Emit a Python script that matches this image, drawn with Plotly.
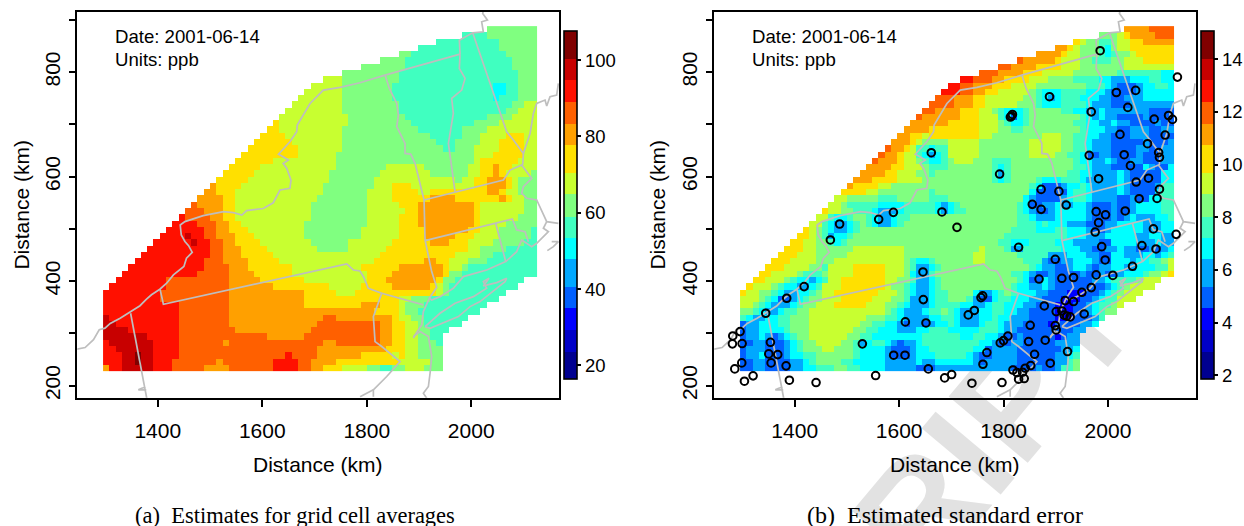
import plotly.graph_objects as go

band_colors = ["#000090", "#0000C8", "#0000FF", "#0060FF", "#00A8FF", "#00FFFF", "#40FFC0", "#80FF80",
               "#C8FF30", "#FFE000", "#FFA000", "#FF6000", "#FF1000", "#C80000", "#800000"]
band_keys = "0123456789abcde"
edges_a = [16.5, 23.7, 29.4, 35.2, 40.7, 47.9, 53.5, 59.0, 65.0, 70.5, 77.8, 83.3, 89.1, 94.8, 100.3, 107.7]
edges_b = [1.87, 2.91, 3.73, 4.58, 5.38, 6.43, 7.23, 8.03, 8.89, 9.70, 10.75, 11.55, 12.39, 13.21, 14.01, 15.08]
ticks_a = [20, 40, 60, 80, 100]
ticks_b = [2, 4, 6, 8, 10, 12, 14]

rows_a = [
"61|7:69","57|6:61 7:69","53|6:63 7:69","50|6:63 7:69","47|7:49 6:64 7:69","44|7:48 6:65 7:69","41|7:48 6:65 7:69",
"38|7:47 6:66 7:69","35|8:38 7:47 6:66 7:69","33|8:38 7:46 6:62 5:64 6:66 7:69","32|8:38 7:46 6:62 5:64 6:66 7:69",
"31|8:38 7:46 6:62 5:63 6:66 7:69","30|8:38 7:47 6:65 7:67 8:69","29|8:38 7:47 6:64 7:66 8:69",
"28|8:39 7:48 6:61 7:65 8:69","27|9:28 8:39 7:49 6:59 7:63 8:69","26|9:28 8:38 7:50 6:57 7:61 8:69",
"25|9:29 8:38 7:52 6:57 7:60 8:64 9:67 8:69","24|9:30 8:38 7:53 6:56 7:60 8:63 9:67 8:69",
"23|9:31 8:38 7:54 6:56 7:59 8:63 9:67 8:69","22|9:31 8:37 7:59 8:62 9:67 8:69","21|9:27 8:37 7:59 8:60 9:66 8:69",
"20|9:25 8:37 7:45 8:51 7:58 8:60 9:62 a:63 9:65 8:69","19|9:24 8:36 7:44 8:52 7:58 8:60 9:62 a:63 9:64 8:68 7:69",
"18|9:23 8:36 7:43 8:56 7:57 8:59 9:61 a:64 9:65 8:66 7:69","17|a:18 9:22 8:35 7:43 8:46 9:49 8:59 9:61 a:64 9:65 8:66 7:69",
"16|a:18 9:21 8:35 7:42 8:46 9:50 8:52 9:61 a:63 9:64 8:66 7:69","15|a:19 9:21 8:34 7:42 8:46 9:52 a:56 9:63 a:64 9:65 8:67 7:69",
"14|b:15 a:19 9:21 8:33 7:42 8:47 9:50 a:59 9:60 8:67 7:69","13|b:16 a:19 9:21 8:33 7:42 8:48 9:50 a:59 9:60 8:67 7:69",
"12|c:13 b:17 a:19 9:21 8:33 7:42 8:47 9:50 a:59 9:60 8:66 7:69","11|c:15 b:18 a:20 9:22 8:32 7:42 8:47 9:50 a:59 9:60 8:64 7:69",
"10|c:16 b:18 a:20 9:23 8:32 7:41 8:47 9:51 a:58 9:60 8:63 7:68 6:69","9|c:13 d:14 c:16 b:18 a:21 9:24 8:32 7:41 8:47 9:51 a:56 9:59 8:63 7:68 6:69",
"8|c:14 d:15 c:17 b:19 a:21 9:25 8:33 7:39 8:46 9:52 a:55 9:58 8:62 7:67 6:69","7|c:17 b:19 a:22 9:26 8:34 7:39 8:45 9:58 8:60 7:64 6:69",
"6|c:17 b:19 a:22 9:27 8:44 9:56 8:60 7:62 6:69","5|c:16 b:19 a:23 9:28 8:43 9:51 a:53 9:55 8:58 7:61 6:69",
"4|c:16 b:20 a:23 9:30 8:41 9:47 a:54 9:55 8:57 7:58 6:69","3|c:15 b:20 a:24 9:30 8:42 9:46 a:54 9:55 7:57 6:69",
"2|c:10 b:20 a:25 9:32 8:42 9:45 a:53 9:54 7:56 6:67","1|c:10 b:20 a:27 9:36 8:41 9:46 a:52 9:53 8:54 7:55 6:66",
"0|c:9 b:20 a:32 9:37 8:40 9:53 8:54 7:55 6:64","0|c:9 b:20 a:32 9:47 8:49 7:52 6:63",
"0|c:12 b:20 a:32 9:41 a:44 9:47 8:48 7:51 6:61","0|c:12 b:20 a:43 9:47 8:48 7:50 6:60",
"0|d:1 c:12 b:20 a:35 b:37 a:46 9:47 8:49 7:51 6:58","0|d:2 c:12 b:20 a:34 b:44 a:46 9:48 8:50 7:51 6:57",
"0|d:4 c:12 b:21 a:33 b:44 a:46 9:48 8:50 7:52 6:55","0|d:7 c:12 b:26 a:32 b:44 a:46 9:48 8:50 7:52 6:54",
"0|c:1 d:8 c:12 b:19 a:20 b:35 a:37 b:44 a:46 9:48 8:50 7:53 6:54","0|c:2 d:8 c:12 b:34 a:45 9:48 8:50 7:54",
"0|c:3 d:5 e:6 d:8 c:12 b:29 c:30 b:34 a:41 9:46 8:47 9:48 8:50 7:54","0|c:3 d:5 e:6 d:8 c:11 b:18 a:19 b:27 c:31 b:33 a:37 9:47 8:52 7:54",
"0|a:1 c:3 d:8 c:11 b:16 a:20 b:27 c:31 b:33 a:35 9:38 8:42 7:44 6:46 7:48 8:51 7:54",
]

rows_b = [
"61|a:65 b:69","57|7:60 8:61 9:62 a:66 b:69","53|9:54 8:55 7:57 6:59 7:60 8:62 9:64 a:69",
"50|a:52 9:53 8:54 7:57 6:58 5:59 7:60 8:62 9:69","47|a:51 9:52 8:54 7:57 6:58 5:59 6:60 7:62 8:63 9:69",
"44|b:45 a:50 9:51 8:54 7:56 6:59 7:61 8:64 9:69","41|b:43 a:47 9:51 8:54 7:61 8:69","38|b:41 a:45 9:48 8:53 7:60 6:67 5:69",
"35|c:37 b:40 a:42 9:46 8:49 7:53 6:57 5:59 4:62 5:65 6:67 5:69",
"33|c:35 b:37 a:40 9:43 8:47 7:55 6:58 5:59 4:60 3:63 4:64 5:66 6:68 5:69",
"32|c:35 b:37 a:39 9:41 8:46 7:47 6:48 5:51 6:55 5:58 4:59 3:63 4:64 5:69",
"31|b:34 a:37 9:39 8:45 7:47 6:48 5:49 4:50 5:51 6:54 5:57 4:59 3:61 4:64 5:69",
"30|b:34 a:37 9:39 8:44 7:47 6:48 5:51 6:55 5:56 4:59 3:62 4:69",
"29|b:31 a:35 9:38 8:40 7:41 6:42 5:45 6:46 7:51 6:53 5:55 4:57 5:58 4:65 3:69",
"28|b:29 a:35 9:38 8:41 6:42 5:43 3:44 5:45 6:46 7:54 6:55 5:56 4:57 5:58 4:60 3:64 4:65 3:69",
"27|a:33 9:38 8:41 7:42 6:43 5:45 6:46 7:53 6:55 5:57 4:59 5:60 4:62 3:66 4:67 3:69",
"26|a:30 9:38 8:41 7:43 6:45 7:54 6:55 5:58 4:60 3:62 4:65 3:67 4:69",
"25|a:27 9:29 8:30 9:38 8:40 7:48 8:51 7:53 6:55 5:57 4:59 3:62 4:65 3:69",
"24|a:27 9:28 8:29 7:33 8:38 7:46 8:51 7:53 6:55 5:56 4:59 3:64 4:65 3:68 4:69",
"23|b:24 a:26 9:27 8:28 6:30 5:31 6:33 8:38 7:46 8:51 7:53 6:55 5:56 4:59 3:63 4:65 3:67 4:69",
"22|b:23 a:25 9:26 8:28 6:29 5:30 4:31 5:32 6:33 8:38 7:46 8:50 7:52 6:54 5:55 3:57 4:59 3:63 4:64 3:67 4:69",
"21|b:22 a:25 9:26 8:28 7:29 6:30 5:32 6:33 7:34 8:37 7:40 6:43 7:53 6:54 5:56 4:58 5:59 4:60 3:62 4:64 3:67 4:69",
"20|a:24 9:26 8:29 7:30 6:33 7:40 6:41 5:42 6:43 7:53 6:55 5:56 4:59 3:64 5:65 4:66 3:68 5:69",
"19|a:23 9:25 8:28 7:30 6:31 7:40 6:41 4:42 6:43 7:52 6:54 5:56 4:60 5:61 4:62 3:67 5:69",
"18|a:21 9:25 8:29 7:40 6:41 5:42 6:43 7:47 6:48 5:51 6:54 5:55 4:60 5:61 4:62 3:67 5:69",
"17|a:18 9:22 8:24 7:46 6:47 5:48 3:51 4:52 5:54 6:55 5:56 4:60 5:61 4:62 3:66 4:67 6:69",
"16|9:20 8:22 7:30 6:31 7:46 5:47 3:52 5:53 6:55 5:56 4:60 5:61 4:62 3:66 5:67 6:69",
"15|8:17 7:22 6:25 7:30 6:33 7:45 5:46 4:47 3:51 4:52 5:53 6:55 5:56 4:60 3:62 4:63 3:65 5:67 6:69",
"14|8:16 7:17 6:22 5:26 6:31 5:32 4:33 5:34 6:35 7:44 6:45 5:46 3:48 4:50 5:51 4:53 5:55 4:56 3:59 4:60 3:62 4:63 5:67 6:69",
"13|9:14 8:16 7:18 6:21 5:22 4:25 5:26 6:31 5:32 4:33 5:34 6:36 7:44 6:45 5:46 4:47 3:49 4:50 5:55 4:56 3:59 4:60 3:62 4:63 5:67 6:69",
"12|8:14 6:15 5:17 6:18 7:20 6:21 5:22 4:24 5:25 6:27 7:44 6:46 5:47 4:50 5:55 4:56 3:59 4:60 3:61 4:62 5:63 4:66 5:68 6:69",
"11|8:13 6:14 5:15 4:17 5:18 6:19 7:20 6:21 5:22 4:24 5:25 6:26 7:44 6:47 5:48 6:49 5:52 4:55 3:58 4:60 5:64 4:67 5:69",
"10|9:11 8:12 7:13 6:14 5:15 4:17 5:18 6:19 7:43 6:47 5:50 6:52 5:55 4:56 3:58 4:59 5:64 4:67 5:69",
"9|9:11 8:12 7:13 6:14 4:15 5:17 6:18 7:42 6:52 5:55 4:58 5:63 4:65 5:67 4:69",
"8|9:10 8:12 7:14 6:15 5:16 6:17 7:41 6:43 5:46 6:50 5:53 4:57 3:59 5:63 4:66 5:67 4:69",
"7|9:10 8:12 7:18 8:26 7:38 8:39 7:42 6:43 4:45 6:51 5:54 4:56 3:58 4:60 5:61 4:63 3:65 4:66 3:67 4:68 5:69",
"6|9:9 8:12 7:17 8:26 7:37 8:39 7:44 6:49 4:52 5:55 4:57 3:59 5:61 4:64 5:66 4:67 5:68 6:69",
"5|9:8 8:12 7:15 8:26 7:27 6:28 5:30 6:31 7:37 8:39 7:45 6:48 4:49 3:51 4:53 5:56 4:57 3:59 5:62 4:63 5:65 6:67 7:68 8:69",
"4|9:7 8:11 7:13 6:14 8:18 9:23 8:26 7:27 6:28 4:30 5:31 6:32 7:46 6:47 5:48 4:50 3:52 4:53 5:55 4:56 3:57 4:59 5:61 4:63 5:66 6:68 8:69",
"3|9:5 8:9 7:10 6:13 7:14 8:18 9:23 8:26 7:27 5:28 4:30 6:31 7:43 6:45 5:46 4:47 3:49 4:50 3:54 4:55 3:57 4:58 3:60 4:61 5:64 6:65 7:67 8:68 9:69",
"2|9:4 8:7 7:8 6:9 5:11 4:12 5:13 6:14 8:16 9:23 8:25 7:27 6:28 4:30 5:31 6:32 7:44 6:45 5:46 3:48 5:49 4:50 3:56 4:58 5:59 6:63 7:64 8:67",
"1|9:2 8:5 7:6 6:7 5:9 4:11 5:12 6:13 8:16 9:23 8:24 7:26 6:27 5:28 4:30 5:31 6:32 7:43 6:44 5:46 4:48 5:49 4:50 3:58 4:59 5:60 6:61 7:62 8:66",
"0|9:1 8:3 7:5 6:6 5:7 4:9 5:11 6:12 7:13 8:15 9:22 8:25 7:26 6:27 5:28 4:30 5:31 6:33 7:37 5:38 4:40 5:41 6:42 7:43 6:44 5:47 4:49 3:52 2:55 3:57 4:58 5:59 6:60 7:61 8:64",
"0|8:3 7:4 6:5 5:6 3:8 4:9 5:10 6:11 7:13 8:16 9:21 8:24 7:26 6:27 4:30 5:31 6:33 7:36 6:37 4:38 3:40 5:41 6:43 5:46 4:48 3:51 2:54 3:56 4:57 5:58 6:60 8:63",
"0|8:2 7:3 6:4 5:5 4:8 5:9 6:10 7:12 8:15 9:20 8:23 7:25 6:26 5:27 4:30 5:31 6:35 5:37 4:39 5:40 6:42 5:45 4:47 3:50 2:53 3:55 4:56 5:57 6:59 7:60 8:61",
"0|7:2 6:3 5:4 4:6 5:7 6:9 7:11 8:23 7:24 6:25 5:26 4:29 5:30 6:32 7:33 6:34 5:35 4:38 5:40 6:42 5:44 4:46 3:50 2:53 3:55 4:56 5:57 6:58 7:60",
"0|6:1 5:2 4:4 5:6 6:8 7:11 8:20 7:23 6:25 5:26 4:30 5:32 6:34 5:35 4:38 5:40 6:41 5:43 4:46 3:50 2:53 3:56 4:57 6:58",
"0|3:1 4:3 5:6 6:8 7:11 8:19 7:21 6:23 5:25 4:26 3:27 4:29 3:30 4:31 5:33 6:34 5:35 4:38 5:39 6:41 5:42 4:45 3:49 2:50 3:54 4:56 5:57",
"0|3:1 4:3 5:7 6:8 7:11 8:18 7:20 6:22 5:25 4:28 5:30 6:33 5:38 6:41 5:42 4:44 3:53 4:55",
"0|3:1 4:3 5:4 4:5 3:6 4:7 5:8 6:9 7:11 8:17 7:19 6:21 5:29 6:35 5:37 6:39 5:41 4:42 3:44 4:45 3:50 2:51 3:52 4:54",
"0|3:2 4:4 3:7 4:8 5:9 6:10 7:12 8:16 7:18 6:19 4:20 5:21 6:23 5:24 4:25 3:26 4:28 5:29 6:38 5:40 4:41 3:43 4:45 3:50 4:54",
"0|3:1 4:4 3:7 4:8 5:9 6:10 7:13 8:15 7:18 6:19 5:23 4:24 3:27 4:28 5:30 6:37 5:39 3:40 4:44 3:51 4:53 5:54",
"0|3:1 4:3 5:4 3:7 4:8 5:10 6:12 7:18 6:19 5:23 4:24 3:27 4:28 5:31 6:36 5:37 4:38 3:40 4:44 3:50 4:52 5:53 6:54",
"0|3:2 4:4 3:8 4:10 5:11 6:12 7:16 6:18 5:23 4:28 5:29 4:31 5:37 4:38 3:39 4:44 3:50 4:52 6:53 7:54",
"0|3:2 4:4 3:8 4:10 5:12 6:15 7:17 6:19 5:23 4:28 3:31 4:43 3:47 4:48 3:50 4:51 6:53 7:54",
]

sites_x = [1985,2133,1888,2016,2053,2038,1968,2088.5,2116,2123.5,1815,1817,1813,2109.5,2023,2075.7,2097,2098.6,1964,2031,2043,
1792.4,1982,2054,2077.6,2098.6,1872,1906,1855,1872,1920,2059.7,2094,1977.4,1995.3,2033,1982,1975.5,2087,2130.5,2065,2092,1988,
1828.8,1899,1994.6,2047,1977.4,2009.3,1868,1911.7,1934,1968,1950,1760,1756.7,1918,1934,1744,1732.4,1878,1900.8,1911.7,1916,1921,
1927.6,1954.4,1899,1900.8,1851,1808.3,1800,1793.7,1848,1879.8,1859.4,1768,1922.5,1760.5,1889.4,1852,1841.5,1818,1825.6,1836.4,
1828.8,1839.6,1739.4,1797,1589,1560.8,1682,1710.8,1486,1468.3,1645.7,1418,1384.7,1646.3,1344.5,1611.9,1651.4,1295.4,1281.4,1280.7,
1299.3,1353.5,1350.3,1367.5,1529.6,1589.5,1611.2,1354.8,1298.6,1383.5,1285.2,1655.9,1320.3,1303.7,1389.8,1440.9,1555,1700.6,1687.2,1661.6]
sites_y = [841,790.5,753,761,765,732.5,724,710,717,709.5,716,719,714,679.6,680.8,663,646,637,640.7,642,621,
605,596,589.7,597,576,575.6,571.8,547,537.4,545.7,557.8,558.4,533,527,534.3,512,494,500,489.6,468,461.6,466,
464.8,441.8,440.6,428.5,412,411,404,405.5,407,387.7,378.7,372,368.5,362.8,361,344,335.4,352.6,341.8,343,335,333,
331.6,337.3,315,306.7,315.6,295,286.3,281.9,284.4,287,260,263.4,265.3,241,243,238.5,233.4,230,225,225.8,
212.4,213.6,204.7,206,531.7,518.3,532.4,503,509.4,478.8,417.6,389.6,367.3,364.7,338.6,322,320,303.5,295.2,280,
280.6,283,260.8,259.5,280,258.3,258.3,243.6,243.6,237.9,232.1,232.1,218.8,208.6,210.5,206,219.4,221.3,214.9,645.8]

borders = [
 ([1245,1261,1277,1288,1299,1309,1328,1350,1366,1378,1388,1404,1417,1430,1450,1455,1466,1459,1452,1445,1443,1452,1487,1526,1545,1561,1570,1602,1621,1634,1653,1655,1647,1640,1650,1640,1631,1653,1666,1667,1691.5,1717,1749,1787,1835,1978.6],
  [270,273,288,307,310,319,329,342,353,365,374,384.5,396,412,428,444,455,468,476,488.4,507.5,514,525.3,533,531,526.6,535,539,550,574.4,577.6,593.5,615.8,625.4,631.7,638,643,666.8,686,698.7,740,765.6,770.7,779.6,794.3,834.4]),
 ([1978.6,1977.3,2002.8,2023.2,2020,2031,2022,2023.2],[834.4,861.2,875.2,877.1,896.3,899.5,912.2,918.6]),
 ([2002.8,2067.9,2080.7,2099.8,2098.5],[875.2,685.9,670,644.5,622.2]),
 ([2099.8,2112.6,2119,2125.3,2141.3,2144.5,2150.8,2163.6,2166.8],[644.5,682.7,721,740,746.5,735,752.9,756,778.4]),
 ([1835,1843.3,1857.4,1860.6,1857.4,1873.3,1873.3,1884.2,1892.5,1909.7,1911.6,1918,1924.3,1933.9,1919.9,1908.4,1905.2,1892.5,1889.3],
  [794.3,768.8,740.1,717.8,695.5,663.6,644.5,643.2,625.4,555.3,478.8,446.9,418.3,388.3,367.3,341.8,316.3,297.2,290.8]),
 ([1978.6,1977.3,1988.2,1981.8,1962.6,1965.8,1956.3,1965.8,1969],[834.4,807,787.9,765.6,749.7,721,663.6,593.5,571.2]),
 ([1909.7,2061.5,2074.3,2096.6,2115.8,2099.8,2096.6,2106.2,2125.3,2138.1,2144.5,2166.8],[555.3,593.5,612.6,622.2,596.7,580.8,568,558.5,555.3,529.8,513.9,510.7]),
 ([2144.5,2138.1,2147.7,2125.3,2115.8,2106.2,2096.6,2087,2066],[513.9,501.1,494.7,472.4,466,472.4,478.8,456.5,437.4]),
 ([2145.7,2157.2,2166.8,2154],[458.4,466,475.6,475.6]),
 ([1911.6,2046.8,2078.7,2087,2103,2109.4],[477.5,510.7,519,498,494.7,475.6]),
 ([2046.8,2066,2029.6,1985,1965.8,1940.3,1924.3,1919.9],[510.7,437.4,421.4,408.7,386.4,370.4,364,367.3]),
 ([1911.6,1940.3,1969,2004.1,2029.6,2023.2,2034.1,2023.2,2048.8,2067.9,2064.7,2045.6,2016.9,1997.7,1975.4,1921.2,1911.6],
  [313,338.6,357.7,370.4,386.4,399.1,405.5,390.9,397.2,405.5,399.1,383.2,360.9,351.3,332.2,309.9,313]),
 ([1828.7,1908.4],[376.8,354.5]),
 ([1404.4,1410.8,1761.7,1774.4,1787,1794,1803,1828.7],[384.5,355.8,432.9,421.4,419.5,408,386.4,376.8]),
 ([1828.7,1812.7,1815.9,1828.7,1863.7,1838.2,1812.7,1812.7],[376.8,332.2,284.4,274.9,246.2,217.5,192,179]),
 ([1787.2,1812.7],[179,192]),
 ([1889.3,1902,1918,1924.3,1921.2,1918,1908.4,1914.8],[294,303.5,294,255.7,223.8,198.4,185.6,176]),
 ([1348,1378.9],[338.6,176]),
 ([1378,1362.9,1369.3,1376],[192,192,195.2,197]),
]

x_ticks = [1400, 1600, 1800, 2000]
y_ticks = [200, 300, 400, 500, 600, 700, 800, 900]
y_labels = ["200", "", "400", "", "600", "", "800", ""]
GREY = "#BEBEBE"
SANS = "Liberation Sans"
W, H = 1244, 526
FS = 21
FS_BAR = 18.5

def decode(rows, edges):
    mids = {k: (edges[i] + edges[i + 1]) / 2 for i, k in enumerate(band_keys)}
    grid = []
    for row in rows:
        cells = [None] * 69
        start, runs = row.split("|")
        c = int(start)
        for tok in runs.split():
            k, e = tok.split(":")
            for i in range(c, int(e)):
                cells[i] = mids[k]
            c = max(c, int(e))
        grid.append(cells)
    return grid

def scale(edges):
    lo, hi = edges[0], edges[-1]
    out = []
    for i, col in enumerate(band_colors):
        out += [[(edges[i] - lo) / (hi - lo), col], [(edges[i + 1] - lo) / (hi - lo), col]]
    return out

grid_x = [1295.3 + 6.02 + 12.04 * c for c in range(69)]
grid_y = [888 - 6.01 - 12.02 * r for r in range(55)]

fig = go.Figure()
panels = [("x", "y", rows_a, edges_a, ticks_a, 564.3), ("x2", "y2", rows_b, edges_b, ticks_b, 1201)]
for xa, ya, rows, edges, ticks, cbx in panels:
    fig.add_trace(go.Heatmap(x=grid_x, y=grid_y, z=decode(rows, edges), xaxis=xa, yaxis=ya,
        zmin=edges[0], zmax=edges[-1], colorscale=scale(edges), zsmooth=False, hoverongaps=False,
        colorbar=dict(x=cbx / W, xanchor="left", xpad=0, y=1 - 30.7 / H, yanchor="top", ypad=0,
                      len=348.3, lenmode="pixels", thickness=13.4, thicknessmode="pixels",
                      outlinecolor="black", outlinewidth=1.6, tickmode="array", tickvals=ticks,
                      ticks="outside", ticklen=4, tickwidth=1.5, tickcolor="black",
                      tickfont=dict(family=SANS, size=FS_BAR, color="black"))))
    for bx, by in borders:
        fig.add_trace(go.Scatter(x=bx, y=by, xaxis=xa, yaxis=ya, mode="lines",
                                 line=dict(color=GREY, width=1.7), showlegend=False, hoverinfo="skip"))
fig.add_trace(go.Scatter(x=sites_x, y=sites_y, xaxis="x2", yaxis="y2", mode="markers", showlegend=False,
                         marker=dict(symbol="circle-open", size=7.6, color="black", line=dict(color="black", width=2))))

axis_common = dict(showgrid=False, zeroline=False, showline=True, mirror=True, linecolor="black", linewidth=1.6,
                   ticks="outside", ticklen=7, tickwidth=1.5, tickcolor="black",
                   tickfont=dict(family=SANS, size=FS, color="black"))
def xaxis(l, r):
    return dict(axis_common, domain=[l / W, r / W], range=[1246, 2168], tickmode="array", tickvals=x_ticks,
                ticklabelstandoff=6)
def yaxis(anchor):
    return dict(axis_common, domain=[1 - 397.7 / H, 1 - 11.5 / H], range=[177, 916], tickmode="array", tickvals=y_ticks,
                ticktext=y_labels, tickangle=-90, anchor=anchor)

def note(text, x, y, size, family=SANS, xanchor="center", angle=0):
    return dict(text=text, x=x / W, y=1 - y / H, xref="paper", yref="paper", xanchor=xanchor, yanchor="middle",
                showarrow=False, textangle=angle, font=dict(family=family, size=size, color="black"))

notes = [
    note("Date: 2001-06-14", 112.5, 36, 18.6, xanchor="left"), note("Units: ppb", 112.5, 59, 18.6, xanchor="left"),
    note("Date: 2001-06-14", 749.5, 36, 18.6, xanchor="left"), note("Units: ppb", 749.5, 59, 18.6, xanchor="left"),
    note("Distance (km)", 318, 464, FS), note("Distance (km)", 955, 464, FS),
    note("Distance (km)", 22, 204.6, FS, angle=-90), note("Distance (km)", 658, 204.6, FS, angle=-90),
    note("(a)  Estimates for grid cell averages", 295, 515, 22.5, "Liberation Serif"),
    note("(b)  Estimated standard error", 945, 515, 24, "Liberation Serif"),
]

mark_x, mark_y = 984, 412
fig.update_layout(width=W, height=H, margin=dict(l=0, r=0, t=0, b=0, autoexpand=False), paper_bgcolor="white", plot_bgcolor="rgba(0,0,0,0)",
                  showlegend=False, annotations=notes,
                  xaxis=dict(xaxis(77.3, 559), anchor="y"), yaxis=yaxis("x"),
                  xaxis2=dict(xaxis(714.3, 1195.7), anchor="y2"), yaxis2=yaxis("x2"),
                  shapes=[dict(type="rect", xref="paper", yref="paper", x0=(mark_x - 100) / W, x1=(mark_x + 100) / W,
                               y0=1 - (mark_y + 100) / H, y1=1 - (mark_y - 100) / H, layer="below",
                               line=dict(width=0), fillcolor="rgba(0,0,0,0)",
                               label=dict(text="<b>RIPT</b>", textangle=-50, textposition="middle center",
                                          font=dict(family=SANS, size=150, color="#E2E2E2")))])
fig.write_html("out.html", post_script="document.body.style.margin='0';", config={"displayModeBar": False})
